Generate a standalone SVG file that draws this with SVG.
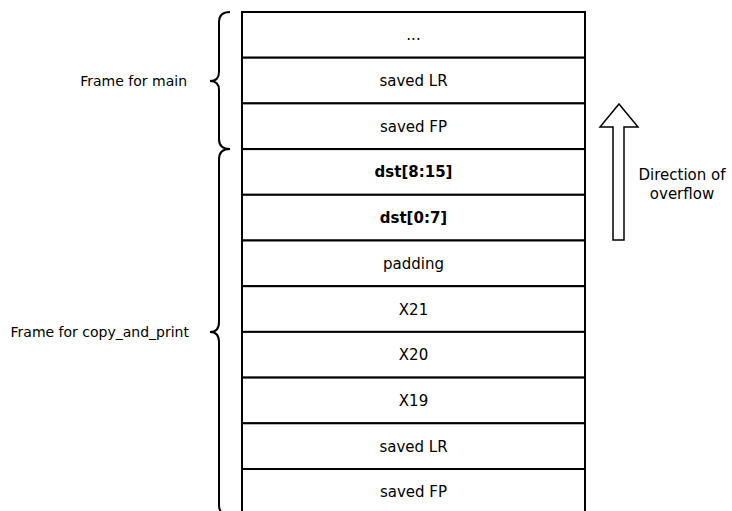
<svg xmlns="http://www.w3.org/2000/svg" width="732" height="511" viewBox="0 0 732 511">
<style>
.cell{fill:#fff;stroke:#000;stroke-width:2}
.t{font-family:"DejaVu Sans","Verdana",sans-serif;font-size:15px;fill:#000;text-anchor:middle}
.b{font-weight:bold}
.lbl{font-family:"DejaVu Sans","Verdana",sans-serif;font-size:14px;fill:#000;text-anchor:end}
.brace{fill:none;stroke:#000;stroke-width:2}
</style>
<rect width="732" height="511" fill="#fff"/>
<g id="stack">
<g id="r0"><rect class="cell" x="242" y="12" width="343" height="45.7"/><text class="t" x="413.5" y="40">...</text></g>
<g id="r1"><rect class="cell" x="242" y="57.7" width="343" height="45.7"/><text class="t" x="413.5" y="86">saved LR</text></g>
<g id="r2"><rect class="cell" x="242" y="103.4" width="343" height="45.7"/><text class="t" x="413.5" y="131.5">saved FP</text></g>
<g id="r3"><rect class="cell" x="242" y="149.1" width="343" height="45.7"/><text class="t b" x="413.5" y="177">dst[8:15]</text></g>
<g id="r4"><rect class="cell" x="242" y="194.8" width="343" height="45.7"/><text class="t b" x="413.5" y="223">dst[0:7]</text></g>
<g id="r5"><rect class="cell" x="242" y="240.5" width="343" height="45.7"/><text class="t" x="413.5" y="269">padding</text></g>
<g id="r6"><rect class="cell" x="242" y="286.2" width="343" height="45.7"/><text class="t" x="413.5" y="314.5">X21</text></g>
<g id="r7"><rect class="cell" x="242" y="331.9" width="343" height="45.7"/><text class="t" x="413.5" y="360">X20</text></g>
<g id="r8"><rect class="cell" x="242" y="377.6" width="343" height="45.7"/><text class="t" x="413.5" y="406">X19</text></g>
<g id="r9"><rect class="cell" x="242" y="423.3" width="343" height="45.7"/><text class="t" x="413.5" y="451.5">saved LR</text></g>
<g id="r10"><rect class="cell" x="242" y="469" width="343" height="45.7"/><text class="t" x="413.5" y="497">saved FP</text></g>
</g>
<g id="frame-main">
<path class="brace" d="M230,12 Q219,12 219,22 L219,72 Q219,81 210,81 Q219,81 219,90 L219,139 Q219,149 230,149"/>
<text class="lbl" x="187" y="85.5">Frame for main</text>
</g>
<g id="frame-copy">
<path class="brace" d="M230,149 Q219,149 219,159 L219,322 Q219,332 210,332 Q219,332 219,342 L219,505 Q219,515 230,515"/>
<text class="lbl" x="189" y="336.5">Frame for copy_and_print</text>
</g>
<g id="direction">
<path d="M619,104 L638,127 L624,127 L624,240 L613,240 L613,127 L600,127 Z" fill="#fff" stroke="#000" stroke-width="1.5" stroke-linejoin="miter"/>
<text class="t" x="682" y="180">Direction of</text>
<text class="t" x="682" y="199">overflow</text>
</g>
</svg>
